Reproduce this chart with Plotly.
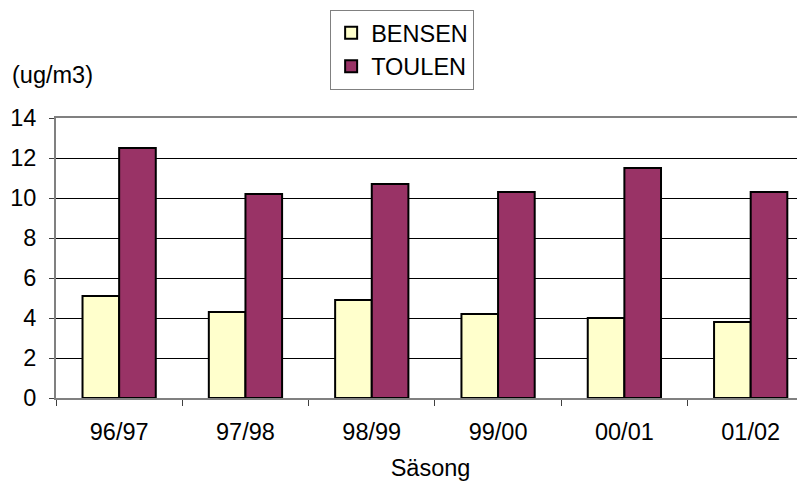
import plotly.graph_objects as go

seasons = ["96/97", "97/98", "98/99", "99/00", "00/01", "01/02"]
bensen = [5.1, 4.3, 4.9, 4.2, 4.0, 3.8]
toulen = [12.5, 10.2, 10.7, 10.3, 11.5, 10.3]

FONT = "Liberation Sans, Arial, sans-serif"
FS = 23.5

fig = go.Figure()
fig.add_trace(go.Bar(x=seasons, y=bensen, name="BENSEN",
                     marker=dict(color="#FFFFCC", line=dict(color="black", width=2))))
fig.add_trace(go.Bar(x=seasons, y=toulen, name="TOULEN",
                     marker=dict(color="#993366", line=dict(color="black", width=2))))

fig.update_layout(
    width=797, height=473,
    margin=dict(l=48, r=0, t=110, b=83),
    paper_bgcolor="white", plot_bgcolor="white",
    font=dict(family=FONT, size=FS, color="black"),
    barmode="group", bargap=0.42, bargroupgap=0,
    showlegend=True,
    legend=dict(x=0.366, y=1.386, xanchor="left", yanchor="top",
                bordercolor="#808080", borderwidth=1, bgcolor="white",
                font=dict(size=FS), traceorder="normal", tracegroupgap=0),
    annotations=[dict(text="(ug/m3)", x=-0.0614, y=1.1536, xref="paper", yref="paper",
                      xanchor="left", yanchor="middle", showarrow=False,
                      font=dict(size=FS))],
)
fig.update_xaxes(range=[-0.5, 5.43], showline=True, mirror=True, linecolor="#808080", linewidth=2,
                 ticks="outside", tickson="boundaries", ticklen=6, tickcolor="#404040",
                 ticklabelstandoff=12,
                 title=dict(text="Säsong", standoff=16, font=dict(size=FS)),
                 showgrid=False)
fig.update_yaxes(range=[0, 14], dtick=2, showline=True, linecolor="#808080", linewidth=2,
                 ticks="outside", ticklen=5, tickcolor="#404040",
                 ticklabelstandoff=8,
                 showgrid=True, gridcolor="black", gridwidth=1, zeroline=False)

fig.write_html("out.html")
